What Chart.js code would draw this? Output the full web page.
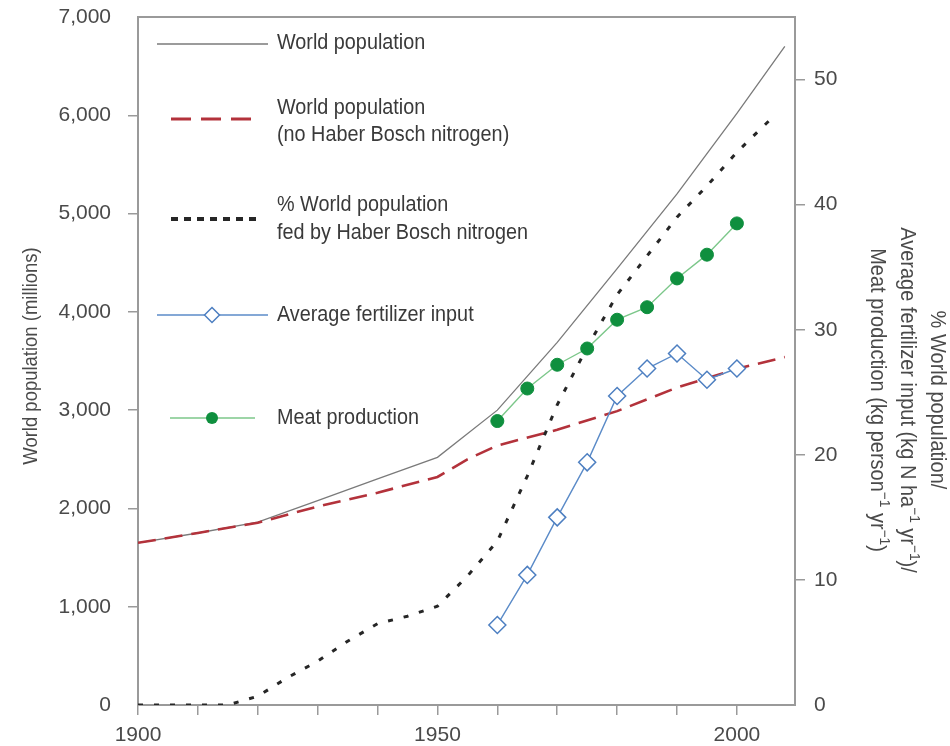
<!DOCTYPE html>
<html><head><meta charset="utf-8">
<script src="https://cdn.jsdelivr.net/npm/chart.js@4.4.1/dist/chart.umd.min.js"></script>
<style>html,body{margin:0;padding:0;background:#fff;}#wrap{width:950px;height:746px;position:relative;}</style>
</head><body><div id="wrap"><canvas id="c" width="950" height="746"></canvas></div>
<script>
// ---------- DATA ----------
const popYears = [1900,1910,1920,1930,1940,1950,1960,1970,1980,1990,2000,2008];
const worldPop = [1650,1750,1860,2080,2300,2520,3000,3690,4440,5200,6020,6700];
const noHBYears = [1900,1910,1920,1930,1940,1950,1955,1960,1970,1980,1990,2000,2008];
const worldPopNoHB = [1650,1750,1855,2020,2160,2320,2500,2640,2800,2990,3230,3420,3540];
const pctYears = [1900,1905,1910,1915,1920,1925,1930,1935,1940,1945,1950,1955,1960,1965,1970,1975,1980,1985,1990,1995,2000,2006];
const pctFedHB = [0,0,0,0,0.7,2.2,3.5,5.1,6.5,7.1,7.9,10.3,13.1,18.3,24.0,28.6,32.8,35.9,39.0,41.5,44.2,47.0];
const fiveYears = [1960,1965,1970,1975,1980,1985,1990,1995,2000];
const fertilizerInput = [6.4,10.4,15.0,19.4,24.7,26.9,28.1,26.0,26.9];
const meatProduction = [22.7,25.3,27.2,28.5,30.8,31.8,34.1,36.0,38.5];
const xTickValues = [1900,1910,1920,1930,1940,1950,1960,1970,1980,1990,2000];
const xTickLabels = [1900,1950,2000];
const leftTickValues = [0,1000,2000,3000,4000,5000,6000,7000];
const rightTickValues = [0,10,20,30,40,50];
const seriesNames = ['World population','World population|(no Haber Bosch nitrogen)','% World population|fed by Haber Bosch nitrogen','Average fertilizer input','Meat production'];
const leftTitle = 'World population (millions)';
const rightTitle = ['% World population/','Average fertilizer input (kg N ha^{\u22121} yr^{\u22121})/','Meat production (kg person^{\u22121} yr^{\u22121})'];

// ---------- STYLE ----------
const FAMILY = '"Liberation Sans", Arial, Helvetica, sans-serif';
const TICK_SIZE = 21;
const C_POP='#7a7a7a', C_NOHB='#b3323b', C_PCT='#262626', C_FERT='#5b8bc8', C_FERT_PT='#4d7fc1', C_MEAT='#7cc78a', C_MEAT_PT='#0f8f3e';
const AXIS='#9a9a9a', TXT='#4a4a4a', LEGTXT='#3a3a3a';

const pts=(xs,ys)=>xs.map((x,i)=>({x:x,y:ys[i]}));

// condensed rich text at (0,0) in current transform
function drawRich(ctx,str,size,kx,color,align){
  const parts=[]; const re=/\^\{([^}]*)\}/g; let last=0,m;
  while((m=re.exec(str))){ if(m.index>last) parts.push({t:str.slice(last,m.index),sup:false}); parts.push({t:m[1],sup:true}); last=re.lastIndex; }
  if(last<str.length) parts.push({t:str.slice(last),sup:false});
  const supSize=Math.round(size*0.68);
  let total=0;
  parts.forEach(p=>{ctx.font=(p.sup?supSize:size)+'px '+FAMILY; p.w=ctx.measureText(p.t).width; total+=p.w;});
  ctx.save(); ctx.scale(kx,1);
  let x=(align==='left')?0:-total/2;
  ctx.textAlign='left'; ctx.textBaseline='middle'; ctx.fillStyle=color;
  parts.forEach(p=>{ctx.font=(p.sup?supSize:size)+'px '+FAMILY; ctx.fillText(p.t,x,p.sup?-size*0.32:0); x+=p.w;});
  ctx.restore();
}

const framePlugin={id:'frame',
  beforeDatasetsDraw(chart){
    const a=chart.chartArea, ctx=chart.ctx;
    ctx.save(); ctx.strokeStyle=AXIS; ctx.lineWidth=2;
    ctx.strokeRect(a.left,a.top,a.right-a.left,a.bottom-a.top);
    ctx.restore();
  }};

const textPlugin={id:'texts',
  afterDraw(chart){
    const ctx=chart.ctx;
    ctx.save(); ctx.translate(31,356); ctx.rotate(-Math.PI/2);
    drawRich(ctx,leftTitle,21,0.88,TXT,'center');
    ctx.restore();
    const rx=[937,907,877];
    rightTitle.forEach((line,i)=>{
      ctx.save(); ctx.translate(rx[i],400); ctx.rotate(Math.PI/2);
      drawRich(ctx,line,22,0.91,TXT,'center');
      ctx.restore();
    });
    const tx=277;
    const rows=[[43],[108,135],[205,233],[315],[418]];
    seriesNames.forEach((n,i)=>{ n.split('|').forEach((t,j)=>{
      ctx.save(); ctx.translate(tx,rows[i][j]); drawRich(ctx,t,22,0.9,LEGTXT,'left'); ctx.restore();
    }); });
    ctx.save();
    ctx.lineCap='butt';
    ctx.strokeStyle=C_POP; ctx.lineWidth=1.5; ctx.setLineDash([]);
    ctx.beginPath(); ctx.moveTo(157,44); ctx.lineTo(268,44); ctx.stroke();
    ctx.strokeStyle=C_NOHB; ctx.lineWidth=3; ctx.setLineDash([20,10]);
    ctx.beginPath(); ctx.moveTo(171,119); ctx.lineTo(254,119); ctx.stroke();
    ctx.strokeStyle=C_PCT; ctx.lineWidth=4; ctx.setLineDash([7,6]);
    ctx.beginPath(); ctx.moveTo(171,219); ctx.lineTo(262,219); ctx.stroke();
    ctx.setLineDash([]);
    ctx.strokeStyle=C_FERT; ctx.lineWidth=1.4;
    ctx.beginPath(); ctx.moveTo(157,315); ctx.lineTo(268,315); ctx.stroke();
    ctx.fillStyle='#fff'; ctx.strokeStyle=C_FERT_PT; ctx.lineWidth=1.5;
    ctx.beginPath(); ctx.moveTo(212,307.5); ctx.lineTo(219.5,315); ctx.lineTo(212,322.5); ctx.lineTo(204.5,315); ctx.closePath(); ctx.fill(); ctx.stroke();
    ctx.strokeStyle=C_MEAT; ctx.lineWidth=1.4;
    ctx.beginPath(); ctx.moveTo(170,418); ctx.lineTo(255,418); ctx.stroke();
    ctx.fillStyle=C_MEAT_PT; ctx.beginPath(); ctx.arc(212,418,6,0,Math.PI*2); ctx.fill();
    ctx.restore();
  }};

const noPad=s=>{s.paddingTop=0;s.paddingBottom=0;s.paddingLeft=0;s.paddingRight=0;};

// ---------- CHART ----------
const tickFont={family:FAMILY,size:TICK_SIZE};
new Chart(document.getElementById('c'),{
  type:'line',
  data:{datasets:[
    {label:seriesNames[0],data:pts(popYears,worldPop),yAxisID:'y',borderColor:C_POP,borderWidth:1.3,pointRadius:0,tension:0,order:5},
    {label:seriesNames[1],data:pts(noHBYears,worldPopNoHB),yAxisID:'y',borderColor:C_NOHB,borderWidth:2.6,borderDash:[18,9],pointRadius:0,tension:0,order:4},
    {label:seriesNames[2],data:pts(pctYears,pctFedHB),yAxisID:'y1',borderColor:C_PCT,borderWidth:3,borderDash:[5,11],pointRadius:0,tension:0,order:3},
    {label:seriesNames[3],data:pts(fiveYears,fertilizerInput),yAxisID:'y1',borderColor:C_FERT,borderWidth:1.4,pointStyle:'rectRot',pointRadius:8.5,pointBackgroundColor:'#ffffff',pointBorderColor:C_FERT_PT,pointBorderWidth:1.5,tension:0,order:2},
    {label:seriesNames[4],data:pts(fiveYears,meatProduction),yAxisID:'y1',borderColor:C_MEAT,borderWidth:1.4,pointStyle:'circle',pointRadius:6.5,pointBackgroundColor:C_MEAT_PT,pointBorderColor:C_MEAT_PT,pointBorderWidth:1,tension:0,order:1}
  ]},
  options:{
    responsive:false,animation:false,devicePixelRatio:1,
    layout:{padding:{top:17,left:0,right:0,bottom:0}},
    plugins:{legend:{display:false},tooltip:{enabled:false}},
    scales:{
      x:{type:'linear',min:1900,max:2009.7,
        afterBuildTicks:s=>{s.ticks=xTickValues.map(v=>({value:v}));},
        afterFit:s=>{s.height=41;noPad(s);},
        ticks:{autoSkip:false,maxRotation:0,font:tickFont,color:TXT,padding:8,callback:v=>xTickLabels.includes(v)?String(v):''},
        grid:{display:true,drawOnChartArea:false,drawTicks:true,tickLength:10,color:AXIS,lineWidth:1.5},
        border:{display:false}},
      y:{type:'linear',position:'left',min:0,max:7000,
        afterBuildTicks:s=>{s.ticks=leftTickValues.map(v=>({value:v}));},
        afterFit:s=>{s.width=138;noPad(s);},
        ticks:{font:tickFont,color:TXT,padding:17,callback:v=>v.toLocaleString('en-US')},
        grid:{display:true,drawOnChartArea:false,drawTicks:true,tickLength:10,lineWidth:1.5,
          color:c=>(c.tick&&(c.tick.value===0||c.tick.value===7000))?'rgba(0,0,0,0)':AXIS},
        border:{display:false}},
      y1:{type:'linear',position:'right',min:0,max:55,
        afterBuildTicks:s=>{s.ticks=rightTickValues.map(v=>({value:v}));},
        afterFit:s=>{s.width=155;noPad(s);},
        ticks:{font:tickFont,color:TXT,padding:9},
        grid:{display:true,drawOnChartArea:false,drawTicks:true,tickLength:10,lineWidth:1.5,
          color:c=>(c.tick&&c.tick.value===0)?'rgba(0,0,0,0)':AXIS},
        border:{display:false}}
    }
  },
  plugins:[framePlugin,textPlugin]
});
</script></body></html>
